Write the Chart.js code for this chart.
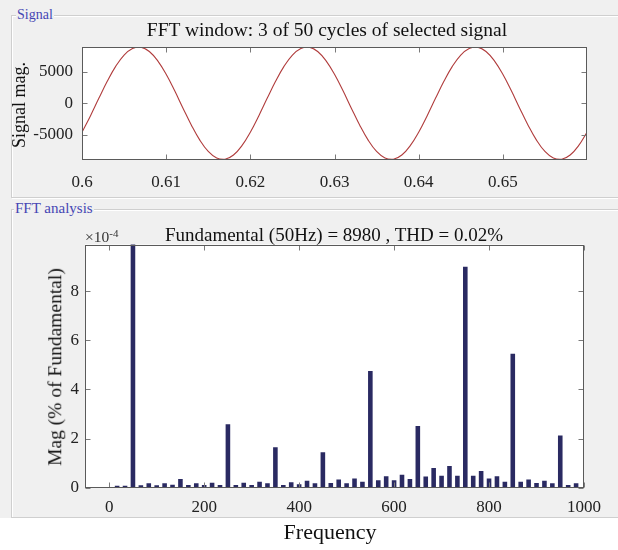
<!DOCTYPE html>
<html>
<head>
<meta charset="utf-8">
<script src="https://cdn.jsdelivr.net/npm/chart.js@4.4.1/dist/chart.umd.min.js"></script>
<style>
  html, body { margin: 0; padding: 0; }
  body { width: 618px; height: 550px; position: relative; overflow: hidden; background: #ffffff;
         font-family: "Liberation Serif", "Times New Roman", serif; }
  #panel { position: absolute; left: 0; top: 0; width: 618px; height: 518px; background: #f0f0f0; }
  .grp { position: absolute; border: 1px solid #cfcfcf; box-shadow: inset 1px 1px 0 #ffffff, 1px 1px 0 #ffffff; }
  .grpTitle { position: absolute; color: #4646b4; background: #f0f0f0; padding: 0 1px; line-height: 1; white-space: nowrap; }
  canvas { position: absolute; left: 0; }
  .txt { position: absolute; white-space: nowrap; color: #111111; line-height: 1; }
  .vert { transform: translate(-50%, -50%) rotate(-90deg); }
  .ctr { transform: translate(-50%, -50%); }
</style>
</head>
<body>
<div id="panel"></div>
<div class="grp" style="left:11px; top:15px; width:620px; height:181px;"></div>
<div class="grp" style="left:11px; top:209px; width:620px; height:307px;"></div>
<div class="grpTitle" style="left:16px; top:8px; font-size:14px;">Signal</div>
<div class="grpTitle" style="left:14px; top:201px; font-size:15px;">FFT analysis</div>

<canvas id="sigChart" width="618" height="200" style="top:0px;"></canvas>
<canvas id="fftChart" width="618" height="350" style="top:200px;"></canvas>

<div class="txt ctr" style="left:327px; top:30px; font-size:19.5px;">FFT window: 3 of 50 cycles of selected signal</div>
<div class="txt vert" style="left:19px; top:105px; font-size:18px;">Signal mag.</div>
<div class="txt ctr" style="left:334px; top:234px; font-size:19px;">Fundamental (50Hz) = 8980 , THD = 0.02%</div>
<div class="txt" style="left:85px; top:228px; font-size:15.5px; color:#333;">×10<sup style="font-size:11px; vertical-align:5px;">-4</sup></div>
<div class="txt vert" style="left:55px; top:367px; font-size:19.5px;">Mag (% of Fundamental)</div>
<div class="txt ctr" style="left:330px; top:532px; font-size:22px;">Frequency</div>

<script>
// ---- Time-domain signal (3 cycles of the selected waveform) ----
const sigTime = [0.600,0.601,0.602,0.603,0.604,0.605,0.606,0.607,0.608,0.609,
                 0.610,0.611,0.612,0.613,0.614,0.615,0.616,0.617,0.618,0.619,
                 0.620,0.621,0.622,0.623,0.624,0.625,0.626,0.627,0.628,0.629,
                 0.630,0.631,0.632,0.633,0.634,0.635,0.636,0.637,0.638,0.639,
                 0.640,0.641,0.642,0.643,0.644,0.645,0.646,0.647,0.648,0.649,
                 0.650,0.651,0.652,0.653,0.654,0.655,0.656,0.657,0.658,0.659,0.660];
const sigValue = [-4625,-2020,783,3509,5892,7697,8750,8946,8266,6777,
                  4625,2020,-783,-3509,-5892,-7697,-8750,-8946,-8266,-6777,
                  -4625,-2020,783,3509,5892,7697,8750,8946,8266,6777,
                  4625,2020,-783,-3509,-5892,-7697,-8750,-8946,-8266,-6777,
                  -4625,-2020,783,3509,5892,7697,8750,8946,8266,6777,
                  4625,2020,-783,-3509,-5892,-7697,-8750,-8946,-8266,-6777,-4625];
const sigXTicks = [0.60, 0.61, 0.62, 0.63, 0.64, 0.65];
const sigYTicks = [-5000, 0, 5000];

// ---- FFT spectrum: magnitude in units of 1e-4 % of the fundamental ----
const fftFreq = [0,16.67,33.33,50,66.67,83.33,100,116.67,133.33,150,
                 166.67,183.33,200,216.67,233.33,250,266.67,283.33,300,316.67,
                 333.33,350,366.67,383.33,400,416.67,433.33,450,466.67,483.33,
                 500,516.67,533.33,550,566.67,583.33,600,616.67,633.33,650,
                 666.67,683.33,700,716.67,733.33,750,766.67,783.33,800,816.67,
                 833.33,850,866.67,883.33,900,916.67,933.33,950,966.67,983.33];
// the 50 Hz entry is the fundamental itself (100 %), far above the axis limit
const fftMag = [0,0.08,0.08,1000000,0.10,0.18,0.10,0.18,0.12,0.35,
                0.11,0.18,0.11,0.20,0.11,2.58,0.11,0.20,0.11,0.24,
                0.18,1.65,0.11,0.22,0.14,0.28,0.18,1.44,0.19,0.33,
                0.18,0.37,0.24,4.75,0.30,0.47,0.30,0.53,0.35,2.51,
                0.46,0.80,0.49,0.88,0.49,8.99,0.49,0.68,0.37,0.47,
                0.24,5.45,0.24,0.33,0.19,0.28,0.18,2.12,0.11,0.18];
const fftXTicks = [0, 200, 400, 600, 800, 1000];
const fftYTicks = [0, 2, 4, 6, 8];

const FONT = '"Liberation Serif", "Times New Roman", serif';

// White plot area, box outline and inward tick marks on all four sides
const boxAxes = {
  id: 'boxAxes',
  beforeDraw(chart) {
    const a = chart.chartArea, c = chart.ctx;
    c.save();
    c.fillStyle = '#ffffff';
    c.fillRect(a.left, a.top, a.right - a.left, a.bottom - a.top);
    c.restore();
  },
  afterDraw(chart, args, opts) {
    const a = chart.chartArea, c = chart.ctx, len = opts.tickLength;
    const L = Math.round(a.left) + 0.5, R = Math.round(a.right) - 0.5;
    const T = Math.round(a.top) + 0.5, B = Math.round(a.bottom) - 0.5;
    c.save();
    c.lineWidth = 1;
    c.strokeStyle = opts.tickColor;
    c.beginPath();
    const xs = chart.scales.x, ys = chart.scales.y;
    xs.ticks.forEach(t => {
      const p = Math.round(xs.getPixelForValue(t.value)) + 0.5;
      c.moveTo(p, B); c.lineTo(p, B - len);
      c.moveTo(p, T); c.lineTo(p, T + len);
    });
    ys.ticks.forEach(t => {
      const p = Math.round(ys.getPixelForValue(t.value)) + 0.5;
      c.moveTo(L, p); c.lineTo(L + len, p);
      c.moveTo(R, p); c.lineTo(R - len, p);
    });
    c.stroke();
    c.strokeStyle = opts.boxColor;
    c.strokeRect(L, T, R - L, B - T);
    c.restore();
  }
};

function fixedTicks(list) {
  return function (scale) { scale.ticks = list.map(v => ({ value: v })); };
}
function fixWidth(w) {
  return function (scale) { scale.width = w; scale.paddingTop = 0; scale.paddingBottom = 0; };
}
function fixHeight(h) {
  return function (scale) { scale.height = h; scale.paddingLeft = 0; scale.paddingRight = 0; };
}

const tickFont = { family: FONT, size: 17 };

new Chart(document.getElementById('sigChart'), {
  type: 'line',
  data: {
    datasets: [{
      data: sigTime.map((t, i) => ({ x: t, y: sigValue[i] })),
      borderColor: '#b03c3c',
      borderWidth: 1.1,
      pointRadius: 0,
      tension: 0.4,
      fill: false
    }]
  },
  options: {
    responsive: false,
    animation: false,
    devicePixelRatio: 1,
    layout: { autoPadding: false, padding: { left: 0, right: 31, top: 47, bottom: 0 } },
    plugins: { legend: { display: false }, tooltip: { enabled: false },
               boxAxes: { tickLength: 5, tickColor: '#7a7a7a', boxColor: '#5a5a5a' } },
    scales: {
      x: {
        type: 'linear', min: 0.6, max: 0.66, offset: false,
        afterBuildTicks: fixedTicks(sigXTicks),
        afterFit: fixHeight(40.5),
        grid: { display: false, drawTicks: false },
        border: { display: false },
        ticks: { font: tickFont, color: '#222222', padding: 13, maxRotation: 0, autoSkip: false,
                 callback: v => String(Number(v.toFixed(2))) }
      },
      y: {
        type: 'linear', min: -8980, max: 8980,
        afterBuildTicks: fixedTicks(sigYTicks),
        afterFit: fixWidth(82),
        grid: { display: false, drawTicks: false },
        border: { display: false },
        ticks: { font: tickFont, color: '#222222', padding: 9, callback: v => String(v) }
      }
    }
  },
  plugins: [boxAxes]
});

new Chart(document.getElementById('fftChart'), {
  type: 'bar',
  data: {
    datasets: [{
      data: fftFreq.map((f, i) => ({ x: f, y: fftMag[i] })),
      backgroundColor: '#2a2a62',
      borderWidth: 0,
      barPercentage: 0.58,
      categoryPercentage: 1.0
    }]
  },
  options: {
    responsive: false,
    animation: false,
    devicePixelRatio: 1,
    layout: { autoPadding: false, padding: { left: 0, right: 34, top: 44.5, bottom: 0 } },
    plugins: { legend: { display: false }, tooltip: { enabled: false },
               boxAxes: { tickLength: 5, tickColor: '#7a7a7a', boxColor: '#5a5a5a' } },
    scales: {
      x: {
        type: 'linear', min: -51, max: 1000, offset: false,
        afterBuildTicks: fixedTicks(fftXTicks),
        afterFit: fixHeight(62.3),
        grid: { display: false, drawTicks: false, offset: false },
        border: { display: false },
        ticks: { font: tickFont, color: '#222222', padding: 10, maxRotation: 0, autoSkip: false,
                 callback: v => String(v) }
      },
      y: {
        type: 'linear', min: 0, max: 9.9,
        afterBuildTicks: fixedTicks(fftYTicks),
        afterFit: fixWidth(85),
        grid: { display: false, drawTicks: false },
        border: { display: false },
        ticks: { font: tickFont, color: '#222222', padding: 6, callback: v => String(v) }
      }
    }
  },
  plugins: [boxAxes]
});
</script>
</body>
</html>
